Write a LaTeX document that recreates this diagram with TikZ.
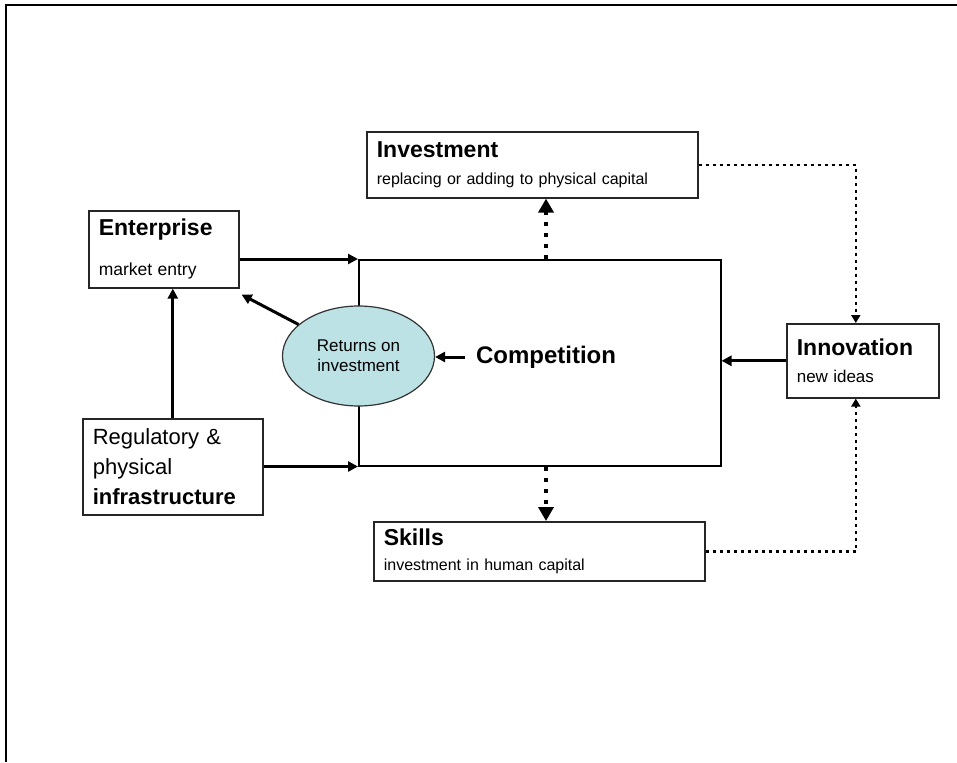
\documentclass[tikz,border=0pt]{standalone}
\usepackage{fontspec}
\setmainfont{Liberation Sans}
\usetikzlibrary{shapes.geometric, arrows.meta, positioning, calc}

\definecolor{retfill}{HTML}{BCE2E5}
\tikzset{
  box/.style={draw=black!85, line width=1.6pt, anchor=north west, align=left,
    inner xsep=10pt, inner ysep=0pt, font=\fontsize{16}{27}\selectfont},
  solidarr/.style={line width=3pt, -{Triangle[length=10pt,width=10pt]}},
  bolddots/.style={line width=4pt, dash pattern=on 4pt off 7pt, -{Triangle[length=14pt,width=15pt]}},
  thindots/.style={line width=2.5pt, dash pattern=on 3pt off 4pt, -{Triangle[length=8pt,width=9pt]}},
}
\newcommand{\boxtitle}[1]{{\bfseries\fontsize{23}{27}\selectfont #1}}

\begin{document}
\begin{tikzpicture}[x=1pt,y=-1pt]
\useasboundingbox (0,0) rectangle (957,762);
% frame
\draw[line width=2.5pt] (6,762) -- (6,5) -- (957,5);

% boxes round the centre
\node[box, text width=311pt, minimum height=66pt] (invest) at (366,131) {\boxtitle{Investment}\\ replacing or adding to physical capital};
\node[box, text width=130pt, minimum height=77pt] (enter) at (88,210) {\boxtitle{Enterprise}\\[13pt] {\fontsize{17.5}{27}\selectfont market entry}};
\node[box, text width=132pt, minimum height=74pt] (innov) at (786,323) {\boxtitle{Innovation}\\ {\fontsize{17}{27}\selectfont new ideas}};
\node[box, text width=160pt, minimum height=96pt, font=\fontsize{22}{30}\selectfont] (reg) at (82,418) {Regulatory \&\\ physical\\ \textbf{infrastructure}};
\node[box, text width=311pt, minimum height=59pt] (skills) at (373,521) {\boxtitle{Skills}\\[-2pt] investment in human capital};

% competition
\node[draw, line width=1.5pt, anchor=north west, minimum width=362pt, minimum height=206pt, inner sep=0pt] (compet) at (358,259) {};
\node[font=\bfseries\fontsize{24}{28}\selectfont, inner xsep=11pt] (comptext) at (546,357) {Competition};
\node[ellipse, draw=black!80, line width=1.2pt, fill=retfill, minimum width=152pt, minimum height=100pt,
  inner sep=0pt, align=center, font=\fontsize{17}{20}\selectfont] (returns) at (358.5,356) {Returns on\\investment};

% solid arrows
\draw[solidarr] (enter.east |- compet.north west) -- (compet.north west);
\draw[solidarr] (reg.east |- compet.south west) -- (compet.south west);
\draw[solidarr] (reg.north) -- (reg.north |- enter.south);
\draw[solidarr] (returns) -- ($(enter.south east)+(2,6)$);
\draw[solidarr] (comptext.west) -- (comptext.west -| returns.east);
\draw[solidarr] (innov.west) -- (innov.west -| compet.east);

% dotted arrows
\draw[bolddots] (comptext |- compet.north) -- (comptext |- invest.south);
\draw[bolddots] (comptext |- compet.south) -- (comptext |- skills.north);
\coordinate (innovtop) at ($(innov.north)+(-7,0)$);
\coordinate (innovbot) at ($(innov.south)+(-7,0)$);
\draw[thindots] (invest.east) -| (innovtop);
\draw[thindots] (skills.east) -| (innovbot);
\end{tikzpicture}
\end{document}
